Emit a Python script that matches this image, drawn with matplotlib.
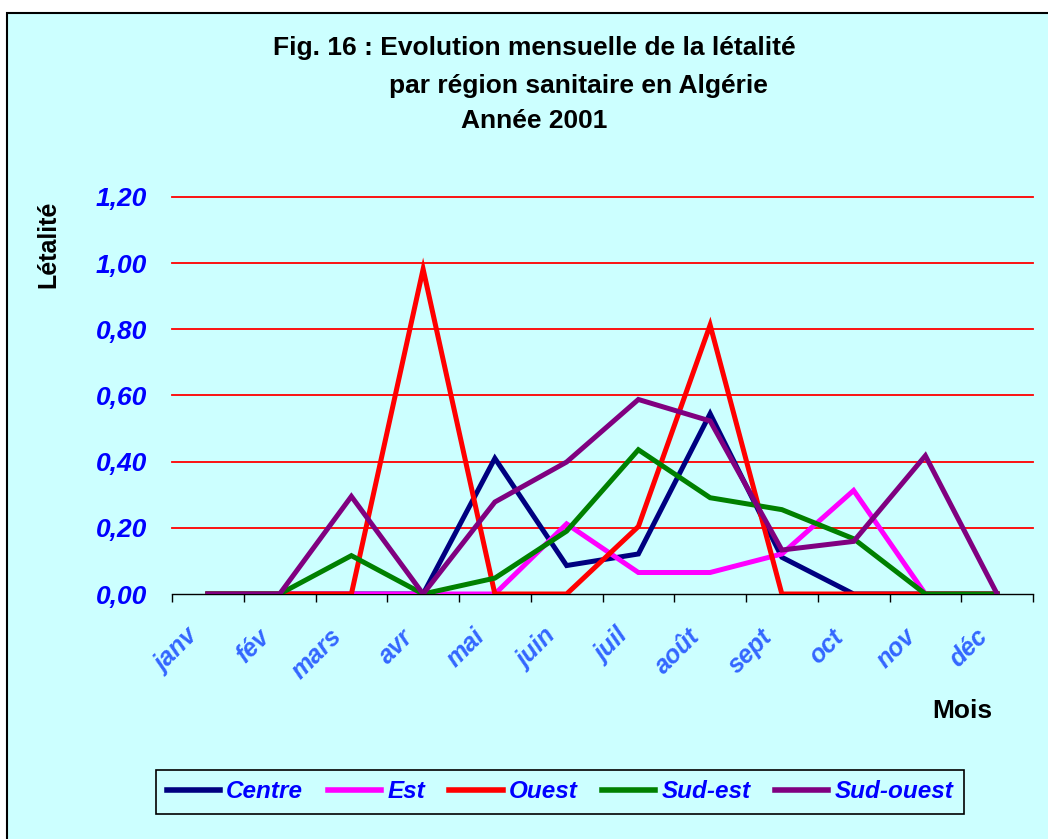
import matplotlib
matplotlib.use("Agg")
import matplotlib.pyplot as plt
import matplotlib.transforms as mtransforms
from matplotlib.patches import Rectangle

plt.rcParams['font.family'] = ['Liberation Sans', 'DejaVu Sans']

# Data
months = ["janv", "fév", "mars", "avr", "mai", "juin", "juil", "août", "sept", "oct", "nov", "déc"]
centre = [0, 0, 0, 0, 0.41, 0.086, 0.121, 0.545, 0.111, 0, 0, 0]
est = [0, 0, 0, 0, 0, 0.212, 0.065, 0.065, 0.121, 0.313, 0, 0]
ouest = [0, 0, 0, 0.982, 0, 0, 0.204, 0.813, 0, 0, 0, 0]
sud_est = [0, 0, 0.116, 0, 0.048, 0.19, 0.436, 0.291, 0.255, 0.167, 0, 0]
sud_ouest = [0, 0, 0.295, 0, 0.278, 0.399, 0.588, 0.523, 0.133, 0.159, 0.418, 0]
yticks = [0, 0.2, 0.4, 0.6, 0.8, 1.0, 1.2]

series = [
    ("Centre", centre, "#000080"),
    ("Est", est, "#FF00FF"),
    ("Ouest", ouest, "#FF0000"),
    ("Sud-est", sud_est, "#008000"),
    ("Sud-ouest", sud_ouest, "#800080"),
]

W, H = 1048, 839
fig = plt.figure(figsize=(W / 100, H / 100), dpi=100, facecolor="white")

# chart area background with black frame
fig.patches.append(Rectangle((7 / W, -0.05), 1.1, 1 - 13 / H + 0.05, transform=fig.transFigure,
                             facecolor="#CCFFFF", edgecolor="black", linewidth=1.5, zorder=-10))

ax = fig.add_axes([172 / W, 1 - 594 / H, (1033 - 172) / W, (594 - 197) / H])
ax.set_facecolor("none")

x = list(range(len(months)))
for name, vals, color in series:
    ax.plot(x, vals, color=color, linewidth=3.6, label=name, solid_joinstyle="miter", zorder=3)

ax.set_xlim(-0.5, len(months) - 0.5)
ax.set_ylim(0, 1.2)

for y in yticks[1:]:
    ax.axhline(y, color="#FF0000", linewidth=1.3, zorder=1, clip_on=False)

for s in ["top", "right", "left"]:
    ax.spines[s].set_visible(False)
ax.spines["bottom"].set_color("black")
ax.spines["bottom"].set_linewidth(1.0)
ax.spines["bottom"].set_zorder(2)

ax.set_yticks(yticks)
ax.set_yticklabels([f"{v:.2f}".replace(".", ",") for v in yticks])
ax.tick_params(axis="y", length=0, pad=18, labelsize=19, labelcolor="#0000FF")
for lab in ax.get_yticklabels():
    lab.set_fontweight("bold")
    lab.set_fontstyle("italic")

ax.set_xticks([i - 0.5 for i in range(len(months) + 1)])
ax.set_xticklabels([])
ax.tick_params(axis="x", which="major", direction="out", length=6, width=1, color="black")
ax.set_xticks(x, minor=True)
ax.set_xticklabels(months, minor=True, rotation=45, ha="right", va="top", rotation_mode="anchor",
                   fontsize=18, fontweight="bold", fontstyle="italic", color="#3366FF")
ax.tick_params(axis="x", which="minor", length=0, pad=22)
shift = mtransforms.ScaledTranslation(-0.22, 0, fig.dpi_scale_trans)
for lab in ax.get_xticklabels(minor=True):
    lab.set_transform(lab.get_transform() + shift)

# titles and axis labels
fig.text(534 / W, 1 - 48 / H, "Fig. 16 : Evolution mensuelle de la létalité", ha="center", va="center",
         fontsize=19, fontweight="bold")
fig.text(578 / W, 1 - 86 / H, "par région sanitaire en Algérie", ha="center", va="center",
         fontsize=19, fontweight="bold")
fig.text(534 / W, 1 - 121 / H, "Année 2001", ha="center", va="center",
         fontsize=19, fontweight="bold")
fig.text(48 / W, 1 - 244 / H, "Létalité", rotation=90, ha="center", va="center",
         fontsize=18, fontweight="bold")
fig.text(962 / W, 1 - 711 / H, "Mois", ha="center", va="center", fontsize=19, fontweight="bold")

leg = fig.legend(loc="center", bbox_to_anchor=(560 / W, 1 - 792 / H), ncol=5, frameon=True,
                 fancybox=False, edgecolor="black", facecolor="#CCFFFF", framealpha=1,
                 handlelength=2.2, handletextpad=0.25, columnspacing=1.0, borderpad=0.45,
                 prop={"size": 17.5, "weight": "bold", "style": "italic"})
leg.get_frame().set_linewidth(1.2)
for t in leg.get_texts():
    t.set_color("#0000FF")
for h in leg.get_lines():
    h.set_linewidth(4)

fig.savefig("out.png", dpi=100, facecolor="white")
